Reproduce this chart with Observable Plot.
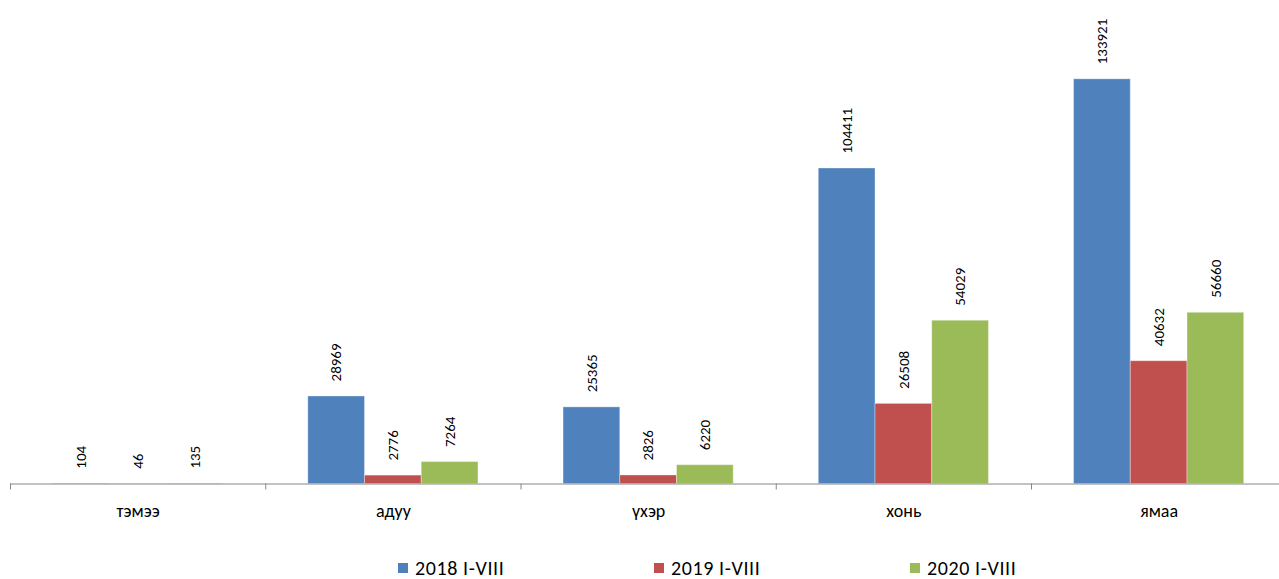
<!DOCTYPE html>
<html>
<head>
<meta charset="utf-8">
<script src="https://cdn.jsdelivr.net/npm/d3@7"></script>
<script src="https://cdn.jsdelivr.net/npm/@observablehq/plot@0.6"></script>
<style>
  html, body { margin: 0; padding: 0; background: #fff; }
  body { width: 1279px; height: 579px; overflow: hidden; font-family: Carlito, Calibri, Lato, "Noto Sans", sans-serif; }
  #legend { height: 34px; box-sizing: border-box; padding-left: 398px; padding-top: 14px; white-space: nowrap; font-size: 20px; line-height: 18px; letter-spacing: 0.6px; color: #000; }
  .item { display: inline-block; width: 256px; letter-spacing: 0.6px; }
  .sw { display: inline-block; width: 10px; height: 10px; margin-right: 7px; vertical-align: 2px; }
</style>
</head>
<body>
<div id="chart"></div>
<div id="legend"></div>
<script>
const categories = ["тэмээ", "адуу", "үхэр", "хонь", "ямаа"];
const seriesNames = ["2018 I-VIII", "2019 I-VIII", "2020 I-VIII"];
const values2018 = [104, 28969, 25365, 104411, 133921];
const values2019 = [46, 2776, 2826, 26508, 40632];
const values2020 = [135, 7264, 6220, 54029, 56660];
const colors = ["#4F81BD", "#C0504D", "#9BBB59"];

const seriesValues = [values2018, values2019, values2020];
const table = [];
categories.forEach((c, i) => {
  seriesNames.forEach((s, j) => {
    table.push({category: c, series: s, value: seriesValues[j][i]});
  });
});

const plot = Plot.plot({
  width: 1279,
  height: 545,
  marginTop: 0,
  marginBottom: 61.5,
  marginLeft: 10,
  marginRight: -7.25,
  style: {fontFamily: "Carlito, Calibri, Lato, 'Noto Sans', sans-serif", fontSize: "15px", color: "#000"},
  fx: {domain: categories, padding: 0, round: false, axis: null},
  x: {domain: seriesNames, paddingInner: 0, paddingOuter: 0.75, round: false, axis: null},
  y: {domain: [0, 160000], axis: null},
  color: {domain: seriesNames, range: colors},
  marks: [
    Plot.barY(table, {fx: "category", x: "series", y: "value", fill: "series", stroke: "#ffffff", strokeOpacity: 0.35, strokeWidth: 1}),
    Plot.ruleY([0], {stroke: "#868686", strokeWidth: 1}),
    Plot.frame({anchor: "left", stroke: "#868686", insetTop: 483.5, insetBottom: -5}),
    Plot.text(table, {fx: "category", x: "series", y: "value", text: d => String(d.value), rotate: -90, textAnchor: "start", dy: -15, fontSize: 15, fill: "#000"}),
    Plot.axisFx({anchor: "bottom", tickSize: 0, tickPadding: 20, fontSize: 18, label: null, fill: "#000"})
  ]
});
document.getElementById("chart").appendChild(plot);

const legend = document.getElementById("legend");
seriesNames.forEach((s, j) => {
  const item = document.createElement("span");
  item.className = "item";
  const sw = document.createElement("span");
  sw.className = "sw";
  sw.style.background = colors[j];
  item.appendChild(sw);
  item.appendChild(document.createTextNode(s));
  legend.appendChild(item);
});
</script>
</body>
</html>
